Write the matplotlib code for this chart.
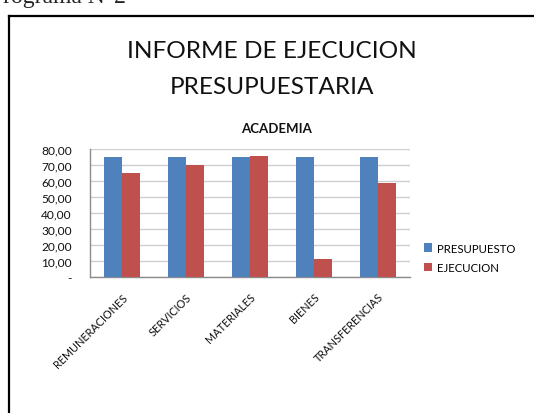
import matplotlib
matplotlib.use("Agg")
import matplotlib.pyplot as plt
import numpy as np
from matplotlib.lines import Line2D
from matplotlib.ticker import FuncFormatter

categories = ["REMUNERACIONES", "SERVICIOS", "MATERIALES", "BIENES", "TRANSFERENCIAS"]
presupuesto = [75, 75, 75, 75, 75]
ejecucion = [65, 70, 75.5, 11, 59]
series_names = ["PRESUPUESTO", "EJECUCION"]
yticks = [0, 10, 20, 30, 40, 50, 60, 70, 80]

W, H = 534, 414
fig = plt.figure(figsize=(W / 100, H / 100), dpi=100)
fig.patch.set_facecolor("white")

def fx(px):
    return px / W

def fy(py):
    return 1 - py / H

font = "Lato"

# Partially visible header text (cut at top, as in the reference)
fig.text(fx(-10), fy(3), "Programa N°2", family="Liberation Serif", fontsize=17,
         va="baseline", ha="left", color="#222222")

# Box border (top and left)
fig.add_artist(Line2D([fx(9), fx(534)], [fy(17), fy(17)], color="black", lw=1.6,
                      transform=fig.transFigure))
fig.add_artist(Line2D([fx(9), fx(9)], [fy(17), fy(414)], color="black", lw=1.6,
                      transform=fig.transFigure))

fig.text(fx(272), fy(52), "INFORME DE EJECUCION", family=font, fontsize=17.6,
         ha="center", va="center", color="#111111")
fig.text(fx(272), fy(88), "PRESUPUESTARIA", family=font, fontsize=17.6,
         ha="center", va="center", color="#111111")
fig.text(fx(277), fy(129), "ACADEMIA", family=font, fontsize=9.5, fontweight="bold",
         ha="center", va="center", color="#111111")

ax = fig.add_axes([fx(90), fy(278), fx(410) - fx(90), fy(150) - fy(278)])
x = np.arange(len(categories))
w = 0.28
ax.bar(x - w / 2, presupuesto, w, color="#4F81BD", label=series_names[0], zorder=3)
ax.bar(x + w / 2, ejecucion, w, color="#C0504D", label=series_names[1], zorder=3)
ax.set_xlim(-0.5, len(categories) - 0.5)
ax.set_ylim(0, 80)
ax.set_yticks(yticks)
ax.yaxis.set_major_formatter(FuncFormatter(
    lambda v, p: "-" if v == 0 else f"{v:.2f}".replace(".", ",")))
ax.grid(axis="y", color="#cfcfcf", lw=1, zorder=0)
ax.set_axisbelow(True)
for s in ["top", "right"]:
    ax.spines[s].set_visible(False)
for s in ["left", "bottom"]:
    ax.spines[s].set_color("#8c8c8c")
    ax.spines[s].set_linewidth(1)
ax.tick_params(axis="both", length=0, labelsize=8.6, colors="#111111")
ax.tick_params(axis="y", pad=13)
ax.tick_params(axis="x", pad=10)
ax.set_xticks(x)
ax.set_xticklabels(categories, rotation=45, ha="right", rotation_mode="anchor",
                   fontsize=7.8, family=font)
for t in ax.get_yticklabels():
    t.set_family(font)

leg = fig.legend(loc="upper left", bbox_to_anchor=(fx(419), fy(239)),
                 frameon=False, prop={"family": font, "size": 8.2},
                 handlelength=0.75, handleheight=0.75, handletextpad=0.4,
                 labelspacing=0.75, borderaxespad=0)

fig.savefig("out.png", dpi=100, facecolor="white")
